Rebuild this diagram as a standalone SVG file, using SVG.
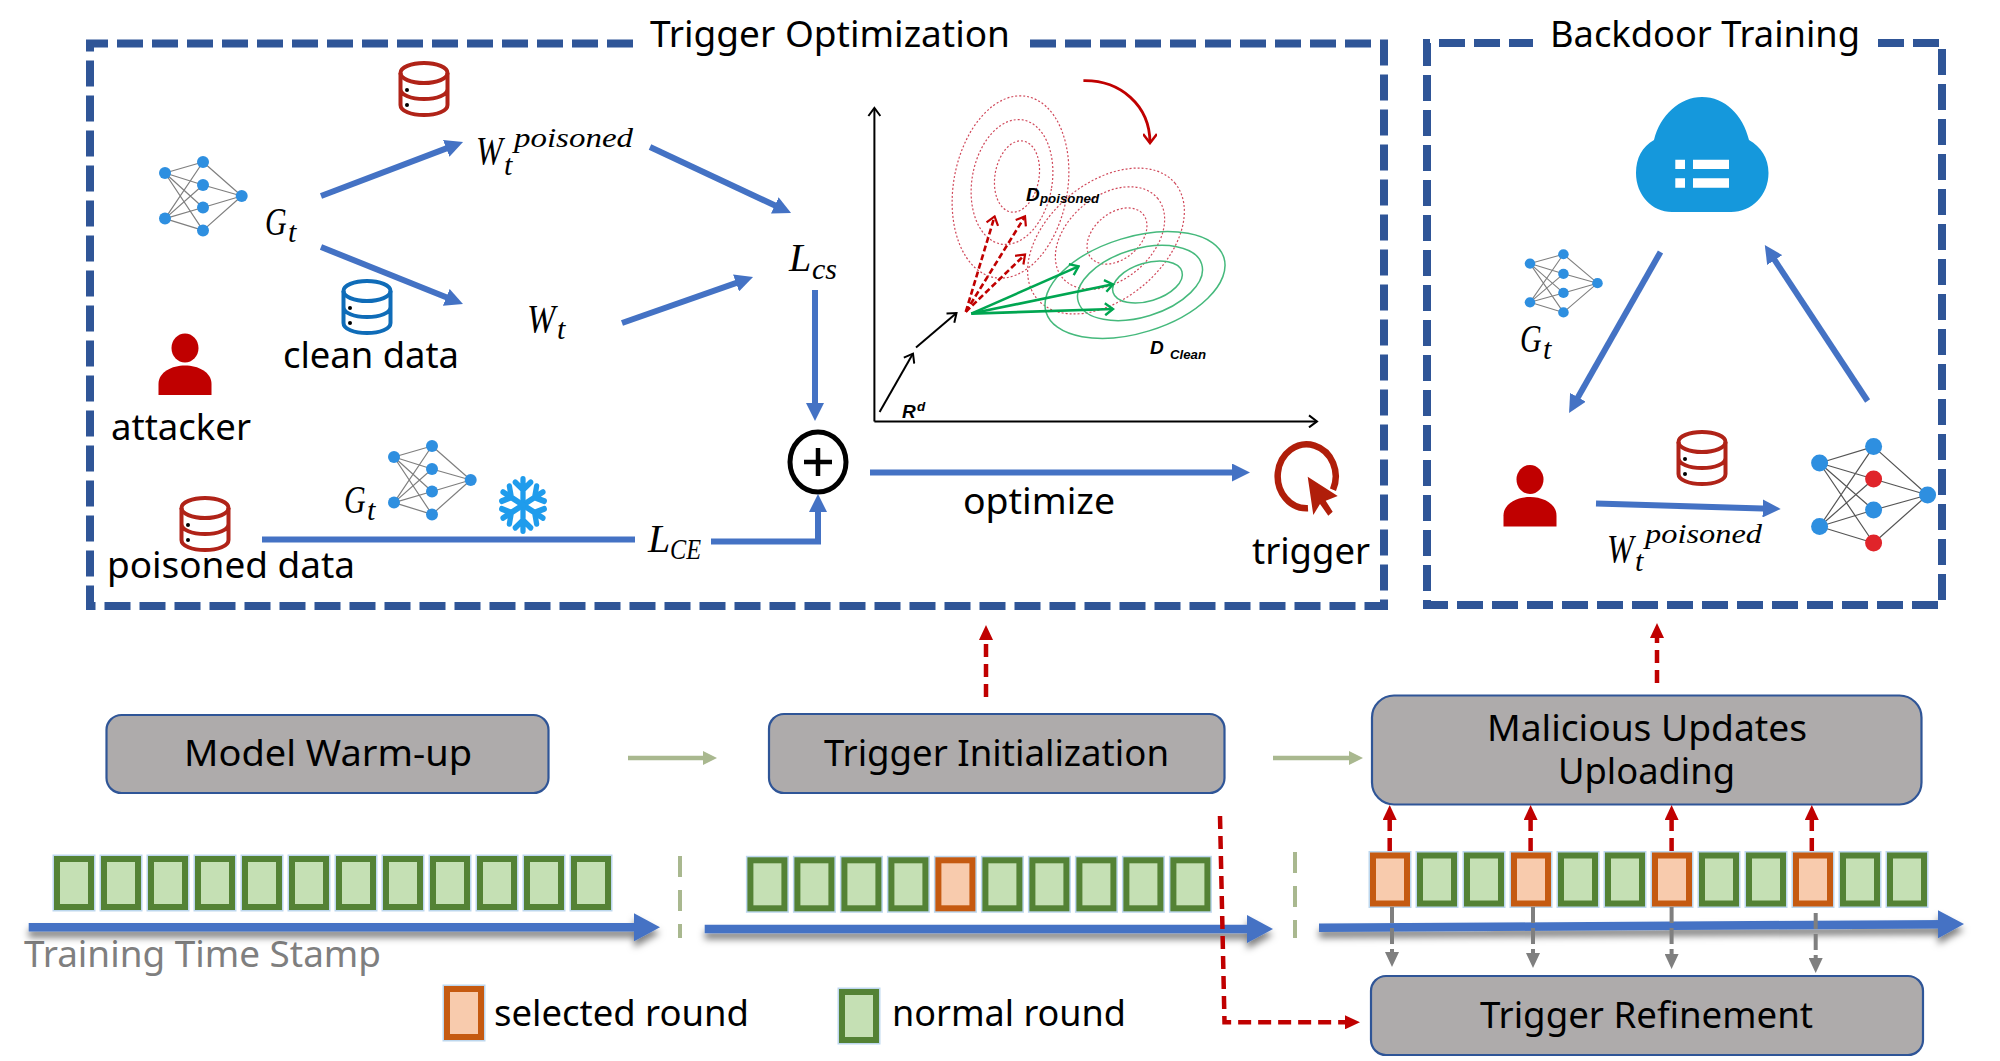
<svg xmlns="http://www.w3.org/2000/svg" xmlns:xlink="http://www.w3.org/1999/xlink" width="2000" height="1061" viewBox="0 0 2000 1061">
<style>
text{font-family:"Noto Sans","Open Sans","Liberation Sans",sans-serif;fill:#000}
.t{font-size:37px}
.g{fill:#7f7f7f}
.m{font-family:"Liberation Serif","DejaVu Serif",serif;font-style:italic;font-size:40px}
.s{font-size:30px}
.ss{font-size:28px}
.c{font-family:"Liberation Sans",sans-serif;font-weight:bold;font-style:italic;font-size:19px}
.cs{font-size:13.5px}
.frame{fill:none;stroke:#2f5597;stroke-width:8;stroke-dasharray:26 9}
.box{fill:#aeabab;stroke:#2f5597;stroke-width:2.2}
.b{fill:none;stroke:#4472c4;stroke-width:6}
.tl{fill:none;stroke:#4472c4;stroke-width:8.5;filter:url(#sh)}
.ga{fill:none;stroke:#a9b88f;stroke-width:4.5}
.sep{fill:none;stroke:#a9b88f;stroke-width:4;stroke-dasharray:21 13}
.rd{fill:none;stroke:#c00000;stroke-width:4.5;stroke-dasharray:13 7}
.gy{fill:none;stroke:#7f7f7f;stroke-width:4;stroke-dasharray:16 5}
.ax{fill:none;stroke:#000;stroke-width:2}
.dot{fill:none;stroke:#d0485a;stroke-width:1.2;stroke-dasharray:2 2}
.gr{fill:none;stroke:#45b97c;stroke-width:1.5}
.ga2{fill:none;stroke:#00a651;stroke-width:2.6}
.rd2{fill:none;stroke:#c00000;stroke-width:2.6;stroke-dasharray:6 3}
.edge{stroke:#7f7f7f;stroke-width:1.2}
.edge2{stroke:#555;stroke-width:1.2}
.nb{fill:#2e8fe0}
.nr{fill:#e0242a}
.db{fill:none;stroke:currentColor;stroke-width:4}
.p{fill:#c00000}
</style>
<defs>
<filter id="sh" filterUnits="userSpaceOnUse" x="0" y="880" width="2000" height="100"><feDropShadow dx="0" dy="6" stdDeviation="3.5" flood-color="#000" flood-opacity="0.5"/></filter>
<marker id="mb" markerUnits="userSpaceOnUse" markerWidth="18" markerHeight="18" refX="8" refY="9" orient="auto"><path d="M0,0L18,9L0,18Z" fill="#4472c4"/></marker>
<marker id="ml" markerUnits="userSpaceOnUse" markerWidth="26" markerHeight="28" refX="10" refY="14" orient="auto"><path d="M0,0L26,14L0,28Z" fill="#4472c4"/></marker>
<marker id="mg" markerUnits="userSpaceOnUse" markerWidth="14" markerHeight="16" refX="6" refY="8" orient="auto"><path d="M0,1L14,8L0,15Z" fill="#a9b88f"/></marker>
<marker id="mr" markerUnits="userSpaceOnUse" markerWidth="15" markerHeight="14" refX="6" refY="7" orient="auto"><path d="M0,0L15,7L0,14Z" fill="#c00000"/></marker>
<marker id="my" markerUnits="userSpaceOnUse" markerWidth="15" markerHeight="14" refX="4" refY="7" orient="auto"><path d="M0,0L15,7L0,14Z" fill="#7f7f7f"/></marker>
<marker id="ok" markerUnits="userSpaceOnUse" markerWidth="12" markerHeight="14" refX="10" refY="7" orient="auto"><path d="M2,1L10,7L2,13" fill="none" stroke="#000" stroke-width="2"/></marker>
<marker id="og" markerUnits="userSpaceOnUse" markerWidth="12" markerHeight="14" refX="10" refY="7" orient="auto"><path d="M2,1L10,7L2,13" fill="none" stroke="#00a651" stroke-width="2.4"/></marker>
<marker id="or" markerUnits="userSpaceOnUse" markerWidth="12" markerHeight="14" refX="10" refY="7" orient="auto"><path d="M2,1L10,7L2,13" fill="none" stroke="#c00000" stroke-width="2.2"/></marker>
<marker id="oc" markerUnits="userSpaceOnUse" markerWidth="14" markerHeight="14" refX="12" refY="7" orient="auto"><path d="M3,0L12,7L3,14" fill="none" stroke="#c00000" stroke-width="2.6"/></marker>
<g id="rg"><rect x="-1.5" y="-1.5" width="43" height="57" fill="#bdd7ee"/><rect x="3" y="3" width="34" height="48" fill="#c5e0b4" stroke="#548235" stroke-width="6"/></g>
<g id="ro"><rect x="-1.5" y="-1.5" width="43" height="57" fill="#bdd7ee"/><rect x="3" y="3" width="34" height="48" fill="#f8cbad" stroke="#c55a11" stroke-width="6"/></g>
<g id="db">
<ellipse class="db" cx="26" cy="12" rx="23.5" ry="10"/>
<path class="db" d="M2.500,12V44C2.500,50 13,54 26,54S49.500,50 49.500,44V12M2.500,28C2.500,34 13,38 26,38S49.500,34 49.500,28"/>
<circle cx="9" cy="29" r="2" fill="#000"/><circle cx="9" cy="44" r="2" fill="#000"/>
</g>
<g id="net">
<path class="edge" d="M0,0L38,-11M0,0L38,12M0,0L38,34.500M0,0L38,57.400M0,45.600L38,-11M0,45.600L38,12M0,45.600L38,34.500M0,45.600L38,57.400M38,-11L76.700,23M38,12L76.700,23M38,34.500L76.700,23M38,57.400L76.700,23"/>
<circle class="nb" cx="0" cy="0" r="6"/><circle class="nb" cx="0" cy="45.600" r="6"/><circle class="nb" cx="38" cy="-11" r="6"/><circle class="nb" cx="38" cy="12" r="6"/><circle class="nb" cx="38" cy="34.500" r="6"/><circle class="nb" cx="38" cy="57.400" r="6"/><circle class="nb" cx="76.700" cy="23" r="6"/>
</g>
<g id="arm"><path d="M0,0V-24M0,-14L-8,-21M0,-14L8,-21" fill="none" stroke="#1f9cec" stroke-width="5.500" stroke-linecap="round"/></g>
<g id="person"><ellipse cx="0" cy="0" rx="13.500" ry="14.500"/><path d="M-26.500,47V36C-26.500,24 -13,17.500 0,17.500S26.500,24 26.500,36V47Z"/></g>
</defs>
<rect width="2000" height="1061" fill="#fff"/>

<g id="trigger-optimization">
<path class="frame" d="M1030,43.500H1384V606H90V43.500H635"/>
<text class="t" x="650" y="47" textLength="360" lengthAdjust="spacingAndGlyphs">Trigger Optimization</text>
</g>
<g id="backdoor-training">
<path class="frame" d="M1878,43H1942V605H1427V43H1533"/>
<text class="t" x="1550" y="47" textLength="310" lengthAdjust="spacingAndGlyphs">Backdoor Training</text>
</g>

<g id="net-top"><use href="#net" transform="translate(165,173)"/></g>
<g id="label-gt-top"><text class="m" transform="translate(265 235) scale(.75 1)">G</text><text class="m s" x="288" y="242">t</text></g>
<g id="label-w-poisoned"><text class="m" transform="translate(476 164) scale(.8 1)">W</text><text class="m s" x="504" y="175">t</text><text class="m ss" x="514" y="147" textLength="119" lengthAdjust="spacingAndGlyphs">poisoned</text></g>
<g id="label-w"><text class="m" transform="translate(527 332) scale(.85 1)">W</text><text class="m s" x="557" y="339">t</text></g>
<g id="label-lcs"><text class="m" x="789" y="271">L<tspan class="s" x="812" y="279">cs</tspan></text></g>
<g id="label-lce"><text class="m" x="648" y="552">L<tspan class="s" x="670" y="559" textLength="31" lengthAdjust="spacingAndGlyphs">CE</tspan></text></g>
<g id="db-poisoned-top" color="#b02318"><use href="#db" x="398" y="61"/></g>
<g id="db-clean" color="#0f6cb8"><use href="#db" x="341" y="279"/><text class="t" x="283" y="368" textLength="176" lengthAdjust="spacingAndGlyphs">clean data</text></g>
<g id="attacker" class="p"><use href="#person" transform="translate(185,348)"/><text class="t" x="111" y="440" textLength="140" lengthAdjust="spacingAndGlyphs">attacker</text></g>
<g id="db-poisoned" color="#b02318"><use href="#db" x="179" y="496"/><text class="t" x="107" y="578" textLength="248" lengthAdjust="spacingAndGlyphs">poisoned data</text></g>
<g id="net-frozen"><use href="#net" transform="translate(394,457)"/><text class="m" transform="translate(344 513) scale(.75 1)">G</text><text class="m s" x="367" y="520">t</text></g>
<g id="snowflake" transform="translate(523,505) scale(.96,1.08)">
<use href="#arm"/><use href="#arm" transform="rotate(60)"/><use href="#arm" transform="rotate(120)"/><use href="#arm" transform="rotate(180)"/><use href="#arm" transform="rotate(240)"/><use href="#arm" transform="rotate(300)"/>
</g>
<g id="plus"><ellipse cx="818" cy="462" rx="28" ry="30" fill="none" stroke="#000" stroke-width="5"/><path d="M804,462H832M818,448V476" stroke="#000" stroke-width="4.500"/></g>

<g id="trigger">
<path d="M1308,508.300A29,32 0 1 1 1333,489.800" fill="none" stroke="#b01e0a" stroke-width="6.500"/>
<path d="M1307.700,476.700L1337.700,496L1325.700,500.700L1332.700,511.700L1328.300,515.700L1320,504L1313.300,515Z" fill="#b01e0a"/>
<text class="t" x="1252" y="564" textLength="118" lengthAdjust="spacingAndGlyphs">trigger</text>
</g>
<g id="label-optimize"><text class="t" x="963" y="514" textLength="152" lengthAdjust="spacingAndGlyphs">optimize</text></g>

<g id="chart">
<ellipse class="dot" cx="1010.500" cy="187" rx="57" ry="92" transform="rotate(10 1010.500 187)"/>
<ellipse class="dot" cx="1012" cy="182" rx="40" ry="63" transform="rotate(10 1012 182)"/>
<ellipse class="dot" cx="1017" cy="176.500" rx="22" ry="36" transform="rotate(10 1017 176.500)"/>
<ellipse class="dot" cx="1106" cy="241" rx="90" ry="58" transform="rotate(-40 1106 241)"/>
<ellipse class="dot" cx="1110" cy="238" rx="62" ry="42" transform="rotate(-40 1110 238)"/>
<ellipse class="dot" cx="1117" cy="236" rx="34" ry="23" transform="rotate(-40 1117 236)"/>
<ellipse class="gr" cx="1135" cy="285" rx="93" ry="48" transform="rotate(-17 1135 285)"/>
<ellipse class="gr" cx="1140" cy="283" rx="64.500" ry="34" transform="rotate(-17 1140 283)"/>
<ellipse class="gr" cx="1147.500" cy="282" rx="36" ry="19" transform="rotate(-17 1147.500 282)"/>
<path class="ax" d="M874.400,421.400V108" marker-end="url(#ok)"/>
<path class="ax" d="M874.400,421.400H1317" marker-end="url(#ok)"/>
<path class="ax" d="M879.600,412L913,353.600" marker-end="url(#ok)"/>
<path class="ax" d="M916,347.500L956.500,313" marker-end="url(#ok)"/>
<path class="rd2" d="M965.800,311.800L994.600,216.400" marker-end="url(#or)"/>
<path class="rd2" d="M965.800,311.800L1025,216.400" marker-end="url(#or)"/>
<path class="rd2" d="M965.800,311.800L1025,254.600" marker-end="url(#or)"/>
<path class="ga2" d="M971.300,313.600L1078.600,266.400" marker-end="url(#og)"/>
<path class="ga2" d="M971.300,313.600L1113,284.300" marker-end="url(#og)"/>
<path class="ga2" d="M971.300,313.600L1113,309" marker-end="url(#og)"/>
<path d="M1083.400,80.700C1120,80 1150,105 1150,143" fill="none" stroke="#c00000" stroke-width="2.800" marker-end="url(#oc)"/>
<text class="c" x="1026" y="201">D<tspan class="cs" x="1040" y="203" textLength="59" lengthAdjust="spacingAndGlyphs">poisoned</tspan></text>
<text class="c" x="1150" y="354">D<tspan class="cs" x="1170" y="359" textLength="36" lengthAdjust="spacingAndGlyphs">Clean</tspan></text>
<text class="c" x="902" y="418">R<tspan class="cs" x="917" y="411">d</tspan></text>
</g>

<g id="cloud">
<path d="M1654,140C1660,115 1680,97 1702,97C1725,97 1743,115 1749,140C1761,147 1768.500,158 1768.500,173C1768.500,195 1752,212 1731,212L1672,212C1652,212 1636,195 1636,173C1636,158 1642,147 1654,140Z" fill="#1598dc"/>
<path d="M1675.300,159.700H1685V169H1675.300ZM1675.300,178.300H1685V187.700H1675.300ZM1693,159.700H1729V169H1693ZM1693,178.300H1729V187.700H1693Z" fill="#fff"/>
</g>
<g id="net-global"><use href="#net" transform="translate(1530,263.600) scale(.88,.85)"/><text class="m" transform="translate(1520 352) scale(.75 1)">G</text><text class="m s" x="1543" y="359">t</text></g>
<g id="attacker-2" class="p"><use href="#person" transform="translate(1530,479.500)"/></g>
<g id="db-poisoned-2" color="#b02318"><use href="#db" x="1676" y="430"/></g>
<g id="label-w-poisoned-2"><text class="m" transform="translate(1607 562) scale(.8 1)">W</text><text class="m s" x="1635" y="571">t</text><text class="m ss" x="1645" y="543" textLength="117" lengthAdjust="spacingAndGlyphs">poisoned</text></g>
<g id="net-backdoored">
<path class="edge2" d="M1819.600,463L1873.600,446.600M1819.600,463L1873.600,479M1819.600,463L1873.600,510M1819.600,463L1873.600,543M1819.600,526.500L1873.600,446.600M1819.600,526.500L1873.600,479M1819.600,526.500L1873.600,510M1819.600,526.500L1873.600,543M1873.600,446.600L1927.600,495M1873.600,479L1927.600,495M1873.600,510L1927.600,495M1873.600,543L1927.600,495"/>
<circle class="nb" cx="1819.600" cy="463" r="8.500"/><circle class="nb" cx="1819.600" cy="526.500" r="8.500"/><circle class="nb" cx="1873.600" cy="446.600" r="8.500"/><circle class="nr" cx="1873.600" cy="479" r="8.500"/><circle class="nb" cx="1873.600" cy="510" r="8.500"/><circle class="nr" cx="1873.600" cy="543" r="8.500"/><circle class="nb" cx="1927.600" cy="495" r="8.500"/>
</g>

<g id="model-warmup"><rect class="box" x="106.500" y="715" width="442" height="78" rx="15"/><text class="t" x="184" y="766" textLength="288" lengthAdjust="spacingAndGlyphs">Model Warm-up</text></g>
<g id="trigger-init"><rect class="box" x="769" y="714" width="455.500" height="79" rx="15"/><text class="t" x="824" y="766" textLength="345" lengthAdjust="spacingAndGlyphs">Trigger Initialization</text></g>
<g id="malicious-updates"><rect class="box" x="1372" y="695.500" width="549.500" height="109" rx="22"/><text class="t" x="1487" y="741" textLength="320" lengthAdjust="spacingAndGlyphs">Malicious Updates</text><text class="t" x="1558" y="784" textLength="177" lengthAdjust="spacingAndGlyphs">Uploading</text></g>
<g id="trigger-refinement"><rect class="box" x="1371" y="976" width="552" height="79" rx="15"/><text class="t" x="1480" y="1028" textLength="333" lengthAdjust="spacingAndGlyphs">Trigger Refinement</text></g>

<g id="rounds-warmup">
<use href="#rg" x="54" y="856"/><use href="#rg" x="101" y="856"/><use href="#rg" x="148" y="856"/><use href="#rg" x="195" y="856"/><use href="#rg" x="242" y="856"/><use href="#rg" x="289" y="856"/><use href="#rg" x="336" y="856"/><use href="#rg" x="383" y="856"/><use href="#rg" x="430" y="856"/><use href="#rg" x="477" y="856"/><use href="#rg" x="524" y="856"/><use href="#rg" x="571" y="856"/>
</g>
<g id="rounds-init">
<use href="#rg" x="747.400" y="857.300"/><use href="#rg" x="794.400" y="857.300"/><use href="#rg" x="841.400" y="857.300"/><use href="#rg" x="888.400" y="857.300"/><use href="#ro" x="935.400" y="857.300"/><use href="#rg" x="982.400" y="857.300"/><use href="#rg" x="1029.400" y="857.300"/><use href="#rg" x="1076.400" y="857.300"/><use href="#rg" x="1123.400" y="857.300"/><use href="#rg" x="1170.400" y="857.300"/>
</g>
<g id="rounds-malicious">
<use href="#ro" x="1370" y="852.500"/><use href="#rg" x="1417" y="852.500"/><use href="#rg" x="1464" y="852.500"/><use href="#ro" x="1511" y="852.500"/><use href="#rg" x="1558" y="852.500"/><use href="#rg" x="1605" y="852.500"/><use href="#ro" x="1652" y="852.500"/><use href="#rg" x="1699" y="852.500"/><use href="#rg" x="1746" y="852.500"/><use href="#ro" x="1793" y="852.500"/><use href="#rg" x="1840" y="852.500"/><use href="#rg" x="1887" y="852.500"/>
</g>
<g id="label-time"><text class="t g" x="24" y="967" textLength="357" lengthAdjust="spacingAndGlyphs">Training Time Stamp</text></g>
<g id="legend-selected"><use href="#ro" x="444" y="986"/><text class="t" x="494" y="1026" textLength="255" lengthAdjust="spacingAndGlyphs">selected round</text></g>
<g id="legend-normal"><use href="#rg" x="839" y="989"/><text class="t" x="892" y="1026" textLength="234" lengthAdjust="spacingAndGlyphs">normal round</text></g>

<g id="connectors">
<path class="b" d="M321,196L453.700,145.600" marker-end="url(#mb)"/>
<path class="b" d="M321,247L453.700,300.300" marker-end="url(#mb)"/>
<path class="b" d="M650,147L782,208.800" marker-end="url(#mb)"/>
<path class="b" d="M622,323L743.600,280.300" marker-end="url(#mb)"/>
<path class="b" d="M815,290V411" marker-end="url(#mb)"/>
<path class="b" d="M262,539.500H635"/>
<path class="b" d="M711,541.500H818V504" marker-end="url(#mb)"/>
<path class="b" d="M870,472.500H1240" marker-end="url(#mb)"/>
<path class="b" d="M1660.500,252L1574,404.300" marker-end="url(#mb)"/>
<path class="b" d="M1867.600,401L1770.300,253.400" marker-end="url(#mb)"/>
<path class="b" d="M1596,503.600L1770.700,508.700" marker-end="url(#mb)"/>
<path class="ga" d="M628,758H709" marker-end="url(#mg)"/>
<path class="ga" d="M1273,758H1355" marker-end="url(#mg)"/>
<path class="tl" d="M28.700,927.300H644" marker-end="url(#ml)"/>
<path class="tl" d="M704.700,929H1257" marker-end="url(#ml)"/>
<path class="tl" d="M1319,927.700L1948,924.200" marker-end="url(#ml)"/>
<path class="sep" d="M680,856V938"/>
<path class="sep" d="M1295,852V938"/>
<path class="rd" d="M986,697V634" marker-end="url(#mr)"/>
<path class="rd" d="M1657,683V632" marker-end="url(#mr)"/>
<path class="rd" d="M1389.700,851V814" marker-end="url(#mr)"/>
<path class="rd" d="M1530.600,851V814" marker-end="url(#mr)"/>
<path class="rd" d="M1671.600,851V814" marker-end="url(#mr)"/>
<path class="rd" d="M1811.800,851V814" marker-end="url(#mr)"/>
<path class="gy" d="M1392,907V956" marker-end="url(#my)"/>
<path class="gy" d="M1533,907V957" marker-end="url(#my)"/>
<path class="gy" d="M1671.600,907V958" marker-end="url(#my)"/>
<path class="gy" d="M1815.700,913V962" marker-end="url(#my)"/>
<path class="rd" d="M1220,816L1224.500,1022.300H1351" marker-end="url(#mr)"/>
</g>
</svg>
